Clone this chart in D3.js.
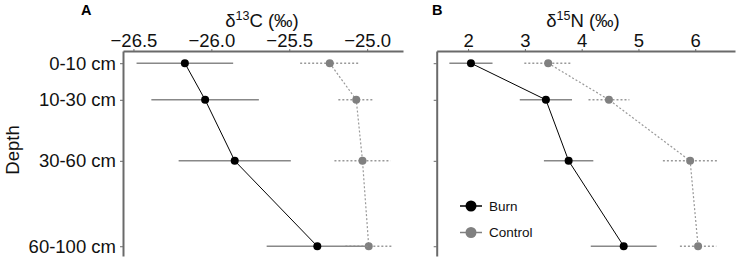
<!DOCTYPE html>
<html lang="en">
<head>
    <meta charset="UTF-8">
    <title>Depth profiles of d13C and d15N</title>
    <script src="https://d3js.org/d3.v7.min.js"></script>
    <style>
        html, body {
            margin: 0;
            padding: 0;
            background: #fff;
        }
        svg {
            display: block;
            font-family: "Liberation Sans", Arial, Helvetica, sans-serif;
        }
    </style>
</head>
<body>
    <svg id="chart" width="737" height="267"></svg>

    <script>
        // depth classes, plotted at their midpoints
        const depthLabels = ["0-10 cm", "10-30 cm", "30-60 cm", "60-100 cm"];
        const depthMid = [5, 20, 45, 80];

        // panel A: d13C (per mil), mean and half width of error bar
        const c13Burn = [-26.17, -26.04, -25.85, -25.32];
        const c13BurnErr = [0.31, 0.345, 0.36, 0.325];
        const c13Control = [-25.24, -25.07, -25.03, -24.99];
        const c13ControlErr = [0.19, 0.115, 0.18, 0.15];
        const c13Ticks = [-26.5, -26.0, -25.5, -25.0];

        // panel B: d15N (per mil)
        const n15Burn = [2.05, 3.37, 3.77, 4.74];
        const n15BurnErr = [0.38, 0.46, 0.435, 0.58];
        const n15Control = [3.41, 4.48, 5.91, 6.05];
        const n15ControlErr = [0.42, 0.36, 0.48, 0.32];
        const n15Ticks = [2, 3, 4, 5, 6];

        const seriesNames = ["Burn", "Control"];
        const seriesColors = ["#000000", "#808080"];

        const svg = d3.select("#chart");
        const plotTop = 51, plotBottom = 256;

        const y = d3.scaleLinear().domain([0, 84]).range([plotTop, plotBottom]);

        function panel(opts) {
            const x = d3.scaleLinear().domain(opts.domain).range(opts.range);
            const g = svg.append("g");

            // top axis
            const xAxis = g.append("g")
                .attr("transform", `translate(0,${plotTop})`)
                .call(d3.axisTop(x).tickValues(opts.ticks)
                    .tickFormat(opts.fmt).tickSize(2).tickPadding(2).tickSizeOuter(0));
            xAxis.select(".domain").attr("stroke", "#6a6a6a").attr("stroke-width", 2);
            xAxis.selectAll(".tick line").attr("stroke", "#6a6a6a");
            xAxis.selectAll("text").attr("font-size", 18.5).attr("fill", "#111");

            // left axis
            const yAxis = g.append("g")
                .attr("transform", `translate(${opts.range[0]},0)`)
                .call(d3.axisLeft(y).tickValues(depthMid)
                    .tickFormat((d, i) => opts.showLabels ? depthLabels[i] : "")
                    .tickSize(3).tickPadding(4).tickSizeOuter(0));
            yAxis.select(".domain").attr("stroke", "#6a6a6a").attr("stroke-width", 2);
            yAxis.selectAll(".tick line").attr("stroke", "#6a6a6a");
            yAxis.selectAll("text").attr("font-size", 18.5).attr("fill", "#111");

            const series = [
                { vals: opts.burn, err: opts.burnErr, color: seriesColors[0], dash: null, ebColor: "#888" },
                { vals: opts.control, err: opts.controlErr, color: seriesColors[1], dash: "2,2", ebColor: "#999" }
            ];

            // draw control first so burn sits on top
            series.slice().reverse().forEach(s => {
                const pts = s.vals.map((v, i) => ({ v, e: s.err[i], d: depthMid[i] }));

                g.selectAll(null).data(pts).enter().append("line")
                    .attr("x1", p => x(p.v - p.e))
                    .attr("x2", p => x(p.v + p.e))
                    .attr("y1", p => y(p.d))
                    .attr("y2", p => y(p.d))
                    .attr("stroke", s.ebColor)
                    .attr("stroke-width", 1.6)
                    .attr("stroke-dasharray", s.dash);

                g.append("path")
                    .datum(pts)
                    .attr("fill", "none")
                    .attr("stroke", s.dash ? "#999" : "#000")
                    .attr("stroke-width", s.dash ? 1.2 : 1)
                    .attr("stroke-dasharray", s.dash)
                    .attr("d", d3.line().x(p => x(p.v)).y(p => y(p.d)));

                g.selectAll(null).data(pts).enter().append("circle")
                    .attr("cx", p => x(p.v))
                    .attr("cy", p => y(p.d))
                    .attr("r", 4)
                    .attr("fill", s.color);
            });

            // panel letter and axis title
            g.append("text")
                .attr("x", opts.letterX).attr("y", 15)
                .attr("font-size", 14.5).attr("font-weight", "bold")
                .text(opts.letter);

            const title = g.append("text")
                .attr("x", opts.titleX).attr("y", 27)
                .attr("text-anchor", "middle")
                .attr("font-size", 18.5).attr("fill", "#111");
            title.append("tspan").text("δ");
            title.append("tspan").attr("font-size", 12.5).attr("dy", -7).text(opts.iso);
            title.append("tspan").attr("dy", 7).text(opts.elem + " (‰)");
        }

        panel({
            domain: [-26.567, -24.77], range: [123, 403],
            ticks: c13Ticks, fmt: d3.format(".1f"),
            burn: c13Burn, burnErr: c13BurnErr,
            control: c13Control, controlErr: c13ControlErr,
            showLabels: true, letter: "A", letterX: 81,
            titleX: 262, iso: "13", elem: "C"
        });

        panel({
            domain: [1.447, 6.7], range: [436.7, 735],
            ticks: n15Ticks, fmt: d3.format("d"),
            burn: n15Burn, burnErr: n15BurnErr,
            control: n15Control, controlErr: n15ControlErr,
            showLabels: false, letter: "B", letterX: 432,
            titleX: 583, iso: "15", elem: "N"
        });

        // y title
        svg.append("text")
            .attr("transform", "translate(19,150) rotate(-90)")
            .attr("text-anchor", "middle")
            .attr("font-size", 18.5).attr("fill", "#111")
            .text("Depth");

        // legend
        const legend = svg.append("g");
        seriesNames.forEach((name, i) => {
            const ly = 206 + i * 26.5;
            legend.append("line")
                .attr("x1", 460).attr("x2", 482)
                .attr("y1", ly).attr("y2", ly)
                .attr("stroke", seriesColors[i]).attr("stroke-width", 1.5);
            legend.append("circle")
                .attr("cx", 471).attr("cy", ly).attr("r", 5.5)
                .attr("fill", seriesColors[i]);
            legend.append("text")
                .attr("x", 489).attr("y", ly).attr("dy", "0.35em")
                .attr("font-size", 13.5).attr("fill", "#111")
                .text(name);
        });
    </script>
</body>
</html>
